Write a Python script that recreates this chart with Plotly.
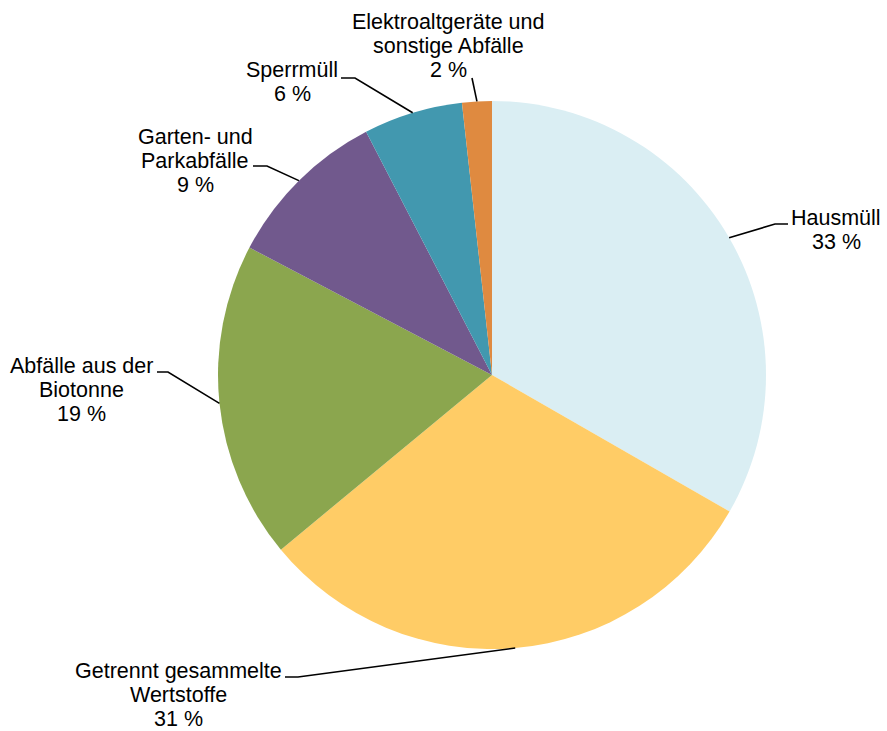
import math
import plotly.graph_objects as go

# ---------------- data ----------------
categories = [
    "Hausmüll",
    "Getrennt gesammelte Wertstoffe",
    "Abfälle aus der Biotonne",
    "Garten- und Parkabfälle",
    "Sperrmüll",
    "Elektroaltgeräte und sonstige Abfälle",
]
shares = [33.3, 30.7, 18.7, 9.7, 5.85, 1.75]
percent_labels = ["33 %", "31 %", "19 %", "9 %", "6 %", "2 %"]
label_lines = [
    ["Hausmüll"],
    ["Getrennt gesammelte", "Wertstoffe"],
    ["Abfälle aus der", "Biotonne"],
    ["Garten- und", "Parkabfälle"],
    ["Sperrmüll"],
    ["Elektroaltgeräte und", "sonstige Abfälle"],
]

# ---------------- style / layout ----------------
colors = ["#DAEEF3", "#FFCC66", "#8BA64E", "#71598D", "#4298AF", "#DF8A40"]
W, H = 887, 731
M_L, M_R, M_T, M_B = 218, 121, 101, 82
PLOT_W = W - M_L - M_R
PLOT_H = H - M_T - M_B
FONT = "Liberation Sans, Arial, sans-serif"
FSIZE = 21.5
LINE_GAP = 24

# label placement in pixels: text center x, first line center y, elbow, line end
label_pos = [
    dict(cx=836, y0=218, elbow=(775, 224), end=(788, 224)),
    dict(cx=178, y0=671, elbow=(298, 677), end=(285, 677)),
    dict(cx=81, y0=366, elbow=(168, 372), end=(157, 372)),
    dict(cx=195, y0=137, elbow=(267, 166), end=(253, 166)),
    dict(cx=292, y0=70, elbow=(355, 78), end=(341, 78)),
    dict(cx=448, y0=22, elbow=(472, 78), end=(472, 78)),
]


def px_to_paper(px, py):
    return (px - M_L) / PLOT_W, (H - M_B - py) / PLOT_H


fig = go.Figure(
    go.Pie(
        labels=categories,
        values=shares,
        sort=False,
        direction="clockwise",
        rotation=0,
        marker=dict(colors=colors, line=dict(width=0)),
        textinfo="none",
        hoverinfo="label+percent",
        showlegend=False,
        domain=dict(x=[0, 1], y=[0, 1]),
    )
)

total = sum(shares)
cum = 0.0
shapes = []
annotations = []
for i, v in enumerate(shares):
    mid = (cum + v / 2) / total * 2 * math.pi
    cum += v
    ex = 0.5 + 0.5 * math.sin(mid)
    ey = 0.5 + 0.5 * math.cos(mid)
    pos = label_pos[i]
    bx, by = px_to_paper(*pos["elbow"])
    qx, qy = px_to_paper(*pos["end"])
    shapes.append(
        dict(
            type="path",
            xref="paper",
            yref="paper",
            path=f"M {ex},{ey} L {bx},{by} L {qx},{qy}",
            line=dict(color="black", width=1.6),
        )
    )
    lines = label_lines[i] + [percent_labels[i]]
    for k, txt in enumerate(lines):
        tx, ty = px_to_paper(pos["cx"], pos["y0"] + k * LINE_GAP)
        annotations.append(
            dict(
                x=tx,
                y=ty,
                xref="paper",
                yref="paper",
                text=txt,
                showarrow=False,
                xanchor="center",
                yanchor="middle",
                font=dict(family=FONT, size=FSIZE, color="black"),
            )
        )

fig.update_layout(
    width=W,
    height=H,
    margin=dict(l=M_L, r=M_R, t=M_T, b=M_B, autoexpand=False),
    paper_bgcolor="white",
    plot_bgcolor="white",
    shapes=shapes,
    annotations=annotations,
    font=dict(family=FONT, size=FSIZE, color="black"),
)

fig.write_html(
    "out.html",
    config={"displayModeBar": False},
    post_script="document.body.style.margin='0';document.body.style.overflow='hidden';",
)
